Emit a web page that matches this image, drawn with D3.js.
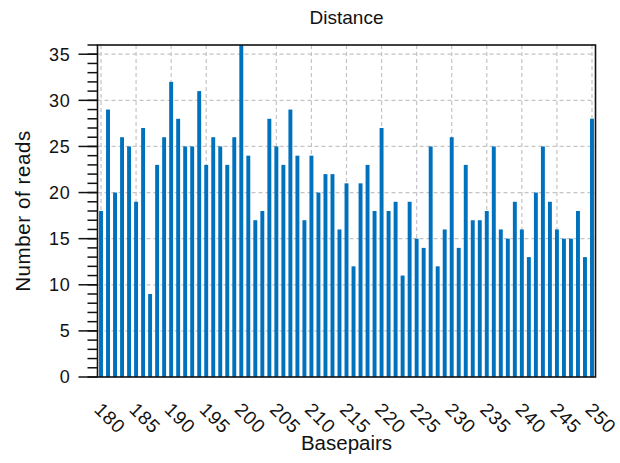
<!DOCTYPE html>
<html>
<head>
<meta charset="utf-8">
<script src="https://cdn.jsdelivr.net/npm/d3@7"></script>
<style>
  html, body { margin: 0; padding: 0; background: #fff; }
  svg { display: block; font-family: "Liberation Sans", Arial, sans-serif; }
</style>
</head>
<body>
<svg id="chart" width="620" height="463"></svg>
<script>
// Read counts per fragment length (basepairs 180..250)
const basepairs = d3.range(180, 251);
const reads = [
  18, 29, 20, 26, 25, 19, 27, 9, 23, 26,
  32, 28, 25, 25, 31, 23, 26, 25, 23, 26,
  36, 24, 17, 18, 28, 25, 23, 29, 24, 17,
  24, 20, 22, 22, 16, 21, 12, 21, 23, 18,
  27, 18, 19, 11, 19, 15, 14, 25, 12, 16,
  26, 14, 23, 17, 17, 18, 25, 16, 15, 19,
  16, 13, 20, 25, 19, 16, 15, 15, 18, 13,
  28
];
const xTickValues = d3.range(180, 251, 5);
const yTickValues = d3.range(0, 36, 5);
const yMinorTicks = d3.range(0, 37, 1);
const title = "Distance";
const xLabel = "Basepairs";
const yLabel = "Number of reads";

const svg = d3.select("#chart");
const plot = { left: 97.5, right: 595.5, top: 45, bottom: 377 };

const x = d3.scaleLinear().domain([179.5, 250.5]).range([plot.left, plot.right]);
const y = d3.scaleLinear().domain([0, 36]).range([plot.bottom, plot.top]);

// Dashed grid
const grid = svg.append("g").attr("stroke", "#c4c4c4").attr("stroke-width", 1.2)
  .attr("stroke-dasharray", "4,3");
grid.selectAll("line.v").data(xTickValues).join("line")
  .attr("x1", d => x(d)).attr("x2", d => x(d))
  .attr("y1", plot.top).attr("y2", plot.bottom);
grid.selectAll("line.h").data(yTickValues.filter(d => d > 0)).join("line")
  .attr("x1", plot.left).attr("x2", plot.right)
  .attr("y1", d => y(d)).attr("y2", d => y(d));

// Bars
const barW = (x(1) - x(0)) * 0.56;
svg.append("g").selectAll("rect").data(basepairs).join("rect")
  .attr("x", (d) => x(d) - barW / 2)
  .attr("width", barW)
  .attr("y", (d, i) => y(reads[i]))
  .attr("height", (d, i) => y(0) - y(reads[i]))
  .attr("fill", "#0072BD");

// Box
svg.append("rect")
  .attr("x", plot.left).attr("y", plot.top)
  .attr("width", plot.right - plot.left).attr("height", plot.bottom - plot.top)
  .attr("fill", "none").attr("stroke", "#111").attr("stroke-width", 1.6);

// Y axis: major and minor outward ticks
const yAxis = svg.append("g").attr("transform", `translate(${plot.left},0)`);
yAxis.selectAll("line.minor").data(yMinorTicks).join("line")
  .attr("x1", -10).attr("x2", 0)
  .attr("y1", d => y(d)).attr("y2", d => y(d))
  .attr("stroke", "#111").attr("stroke-width", 1.5);
yAxis.selectAll("line.major").data(yTickValues).join("line")
  .attr("x1", -19).attr("x2", 0)
  .attr("y1", d => y(d)).attr("y2", d => y(d))
  .attr("stroke", "#111").attr("stroke-width", 1.5);
yAxis.selectAll("text").data(yTickValues).join("text")
  .attr("x", -27).attr("y", d => y(d))
  .attr("dy", "0.36em")
  .attr("text-anchor", "end")
  .attr("font-size", 18)
  .attr("letter-spacing", 0.8)
  .attr("fill", "#111")
  .text(d => d);

// X tick labels, rotated
svg.append("g").selectAll("text").data(xTickValues).join("text")
  .attr("transform", d => `translate(${x(d) - 3},${406}) rotate(45)`)
  .attr("text-anchor", "start")
  .attr("dy", "0.35em")
  .attr("font-size", 19)
  .attr("letter-spacing", 0.8)
  .attr("fill", "#111")
  .text(d => d);

// Titles
svg.append("text")
  .attr("x", (plot.left + plot.right) / 2).attr("y", 24)
  .attr("text-anchor", "middle").attr("font-size", 19).attr("fill", "#111")
  .text(title);
svg.append("text")
  .attr("x", (plot.left + plot.right) / 2).attr("y", 450)
  .attr("text-anchor", "middle").attr("font-size", 20.5).attr("fill", "#111")
  .text(xLabel);
svg.append("text")
  .attr("transform", `translate(30,${(plot.top + plot.bottom) / 2}) rotate(-90)`)
  .attr("text-anchor", "middle").attr("font-size", 20.5).attr("letter-spacing", 0.6)
  .attr("fill", "#111")
  .text(yLabel);
</script>
</body>
</html>
